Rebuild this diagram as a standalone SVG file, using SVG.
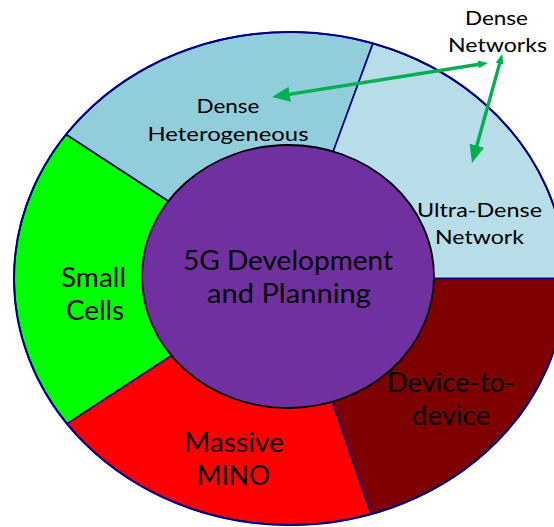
<svg xmlns="http://www.w3.org/2000/svg" width="554" height="527" viewBox="0 0 554 527">
  <defs>
    <style>
      .seg { stroke: #000080; stroke-width: 1.6; stroke-linejoin: round; }
      .lbl { font-family: Lato, "Liberation Sans", "DejaVu Sans", sans-serif; fill: #000; text-anchor: middle; }
      .big { font-size: 26px; }
      .small { font-size: 19px; }
      .arrow { stroke: #00B050; stroke-width: 3.4; fill: none; }
    </style>
    <marker id="headBig" markerUnits="userSpaceOnUse" markerWidth="18" markerHeight="15" refX="12" refY="7.5" orient="auto">
      <path d="M0,0 L18,7.5 L0,15 Z" fill="#00B050"/>
    </marker>
    <marker id="headSmall" markerUnits="userSpaceOnUse" markerWidth="10" markerHeight="8" refX="6" refY="4" orient="auto-start-reverse">
      <path d="M0,0 L10,4 L0,8 Z" fill="#00B050"/>
    </marker>
  </defs>
  <rect width="554" height="527" fill="#ffffff"/>

  <g id="dense-heterogeneous">
    <path class="seg" fill="#92CDDC" d="M168,201 L66,134.5 A276,246.5 0 0 1 373,43.4 L333,152 L288,277 Z"/>
    <text class="lbl small" x="228" y="113" textLength="63" lengthAdjust="spacingAndGlyphs">Dense</text>
    <text class="lbl small" x="228" y="141" textLength="161" lengthAdjust="spacingAndGlyphs">Heterogeneous</text>
  </g>
  <g id="ultra-dense-network">
    <path class="seg" fill="#B7DDE8" d="M333,152 L373,43.4 A276,246.5 0 0 1 566,278.5 L434,278.5 L288,277 Z"/>
    <text class="lbl small" x="479.5" y="217" textLength="125" lengthAdjust="spacingAndGlyphs">Ultra-Dense</text>
    <text class="lbl small" x="479.5" y="244" textLength="89" lengthAdjust="spacingAndGlyphs">Network</text>
  </g>
  <g id="device-to-device">
    <path class="seg" fill="#7F0000" d="M434,278.5 L566,278.5 A276,246.5 0 0 1 371,514 L333,404 L288,277 Z"/>
    <text class="lbl big" x="451" y="392" textLength="128" lengthAdjust="spacingAndGlyphs">Device-to-</text>
    <text class="lbl big" x="451" y="425" textLength="78" lengthAdjust="spacingAndGlyphs">device</text>
  </g>
  <g id="massive-mino">
    <path class="seg" fill="#FF0000" d="M333,404 L371,514 A276,246.5 0 0 1 67,423.7 L169,357 L288,277 Z"/>
    <text class="lbl big" x="234" y="452" textLength="100" lengthAdjust="spacingAndGlyphs">Massive</text>
    <text class="lbl big" x="233.5" y="485" textLength="73" lengthAdjust="spacingAndGlyphs">MINO</text>
  </g>
  <g id="small-cells">
    <path class="seg" fill="#00FF00" d="M169,357 L67,423.7 A276,246.5 0 0 1 66,134.5 L168,201 L288,277 Z"/>
    <text class="lbl big" x="93.5" y="287" textLength="65" lengthAdjust="spacingAndGlyphs">Small</text>
    <text class="lbl big" x="95" y="320" textLength="58" lengthAdjust="spacingAndGlyphs">Cells</text>
  </g>
  <ellipse cx="290" cy="278.5" rx="276" ry="246.5" fill="none" stroke="#000080" stroke-width="2"/>

  <g id="center">
    <ellipse cx="288" cy="276.5" rx="146" ry="131.5" fill="#7030A0" stroke="#000000" stroke-width="1.8"/>
    <text class="lbl big" x="288" y="270" textLength="210" lengthAdjust="spacingAndGlyphs">5G Development</text>
    <text class="lbl big" x="289" y="303" textLength="164" lengthAdjust="spacingAndGlyphs">and Planning</text>
  </g>

  <g id="dense-networks">
    <text class="lbl small" x="496.5" y="25" textLength="63" lengthAdjust="spacingAndGlyphs">Dense</text>
    <text class="lbl small" x="497.5" y="52" textLength="99" lengthAdjust="spacingAndGlyphs">Networks</text>
  </g>

  <g id="connectors">
    <path class="arrow" d="M484,63.5 L277.9,96.1" marker-start="url(#headSmall)" marker-end="url(#headBig)"/>
    <path class="arrow" d="M501.2,57.9 L473.6,157.2" marker-start="url(#headSmall)" marker-end="url(#headBig)"/>
  </g>
</svg>
